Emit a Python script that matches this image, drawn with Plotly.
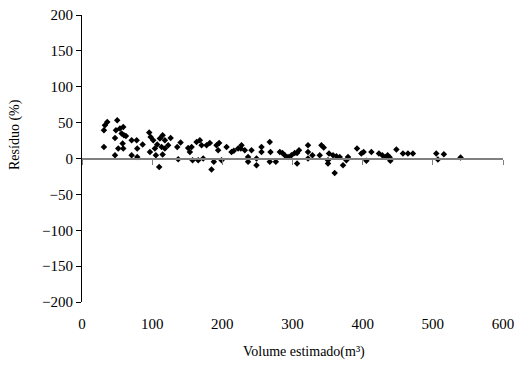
import plotly.graph_objects as go

volume = [32.7, 36.0, 31.3, 31.3, 50.2, 48.4, 47.0, 47.0, 54.1, 58.8, 56.5, 59.8, 62.6, 51.7, 58.8, 57.9,
          70.7, 77.9, 70.7, 78.7, 78.7, 86.4, 95.8, 97.8, 101.5, 96.8, 103.9, 105.3, 110.0, 107.2, 111.0,
          114.9, 118.1, 113.5, 118.1, 114.9, 126.3, 122.8, 135.7, 137.1, 140.5, 151.3, 156.2, 153.7, 157.6,
          163.3, 168.0, 170.4, 165.6, 172.7, 177.5, 182.2, 184.6, 187.9, 191.7, 195.4, 194.0, 198.9, 206.0,
          213.1, 216.4, 222.5, 226.3, 232.0, 236.7, 236.7, 227.3, 241.6, 248.7, 248.7, 255.8, 255.8, 267.6,
          268.6, 267.6, 276.2, 281.9, 285.7, 289.0, 293.7, 298.5, 303.2, 306.5, 306.5, 309.3, 322.1, 322.1,
          322.1, 328.4, 338.8, 341.2, 344.5, 352.0, 350.6, 350.6, 357.7, 362.6, 367.3, 360.1, 372.0, 376.8,
          379.1, 391.9, 398.1, 401.4, 405.3, 412.4, 423.2, 428.0, 432.7, 439.4, 448.0, 457.4, 464.5, 471.6,
          504.9, 507.2, 515.7, 539.5, 435.6, 438.4]
residuo = [46.4, 51.0, 39.4, 16.2, 53.4, 39.4, 28.7, 4.6, 41.8, 44.0, 34.8, 32.5, 31.5, 13.9, 13.9, 20.9,
           25.5, 25.5, 4.6, 13.9, 2.2, 19.5, 36.2, 30.1, 25.5, 9.2, 13.9, 4.6, -11.7, 19.5, 27.9,
           32.5, 25.5, 16.2, 13.9, 5.6, 28.7, 18.5, 16.2, -1.0, 22.3, 14.8, 16.2, 9.2, -2.4,
           23.1, 25.5, 18.5, -2.4, 0.0, 18.5, 21.7, -15.3, -4.7, 18.5, 21.7, 11.6, -2.4, 16.2,
           9.2, 10.9, 13.9, 13.9, 11.6, 2.2, -4.7, 18.5, 11.6, 0.0, -9.3, 16.2, 9.2, 23.1,
           9.2, -4.7, -4.7, 9.2, 7.8, 4.6, 2.2, 4.6, 7.8, 7.8, -7.0, 11.6, 18.5, 9.2,
           0.0, 4.6, 4.6, 18.5, 15.3, 7.0, -2.4, -7.0, 4.6, 3.2, 2.2, -20.1, -9.3, -2.4,
           2.2, 13.9, 7.0, 9.2, -3.3, 9.2, 7.0, 4.6, 2.2, -3.3, 12.5, 7.0, 7.0, 7.0,
           7.0, -1.4, 6.0, 1.4, 4.6, 1.8]

x_ticks = [0, 100, 200, 300, 400, 500, 600]
y_ticks = [-200, -150, -100, -50, 0, 50, 100, 150, 200]

FONT = "Liberation Serif"
ML, MR, MT, MB = 82, 15, 15, 65
W, H = 518, 367

fig = go.Figure()
fig.add_trace(go.Scatter(
    x=volume, y=residuo, mode="markers",
    marker=dict(symbol="diamond", size=5, color="black", line=dict(width=0)),
    showlegend=False, hoverinfo="skip"))
# invisible trace to render the zero-crossing x axis
fig.add_trace(go.Scatter(x=[0], y=[0], xaxis="x2", mode="markers",
                         marker=dict(opacity=0), showlegend=False, hoverinfo="skip"))

pw, ph = W - ML - MR, H - MT - MB


def px_to_paper(x, y):
    return (x - ML) / pw, (H - MB - y) / ph


tx, ty = px_to_paper(304, 352)
yx, yy = px_to_paper(15, 135)

fig.update_layout(
    width=W, height=H,
    margin=dict(l=ML, r=MR, t=MT, b=MB, autoexpand=False),
    paper_bgcolor="white", plot_bgcolor="white",
    font=dict(family=FONT, size=15, color="black"),
    xaxis=dict(range=[0, 600], tickvals=x_ticks, showgrid=False, zeroline=False,
               showline=False, ticks="outside", ticklen=8, tickcolor="rgba(0,0,0,0)",
               tickfont=dict(family=FONT, size=15), automargin=False),
    xaxis2=dict(range=[0, 600], tickvals=x_ticks, overlaying="x", anchor="free",
                position=0.5, side="bottom", showgrid=False, zeroline=False,
                showline=True, linecolor="#808080", linewidth=2,
                ticks="outside", ticklen=5, tickwidth=1, tickcolor="#808080",
                showticklabels=False, automargin=False),
    yaxis=dict(range=[-200, 200], tickvals=y_ticks, showgrid=False, zeroline=False,
               showline=True, linecolor="black", linewidth=1,
               ticks="outside", ticklen=5, tickcolor="black",
               tickfont=dict(family=FONT, size=15), automargin=False),
    annotations=[
        dict(text="Volume estimado(m³)", x=tx, y=ty, xref="paper", yref="paper",
             xanchor="center", yanchor="middle",
             showarrow=False, font=dict(family=FONT, size=14)),
        dict(text="Resíduo (%)", x=yx, y=yy, xref="paper", yref="paper",
             xanchor="center", yanchor="middle",
             showarrow=False, textangle=-90, font=dict(family=FONT, size=14)),
    ],
)

fig.write_html("out.html")
